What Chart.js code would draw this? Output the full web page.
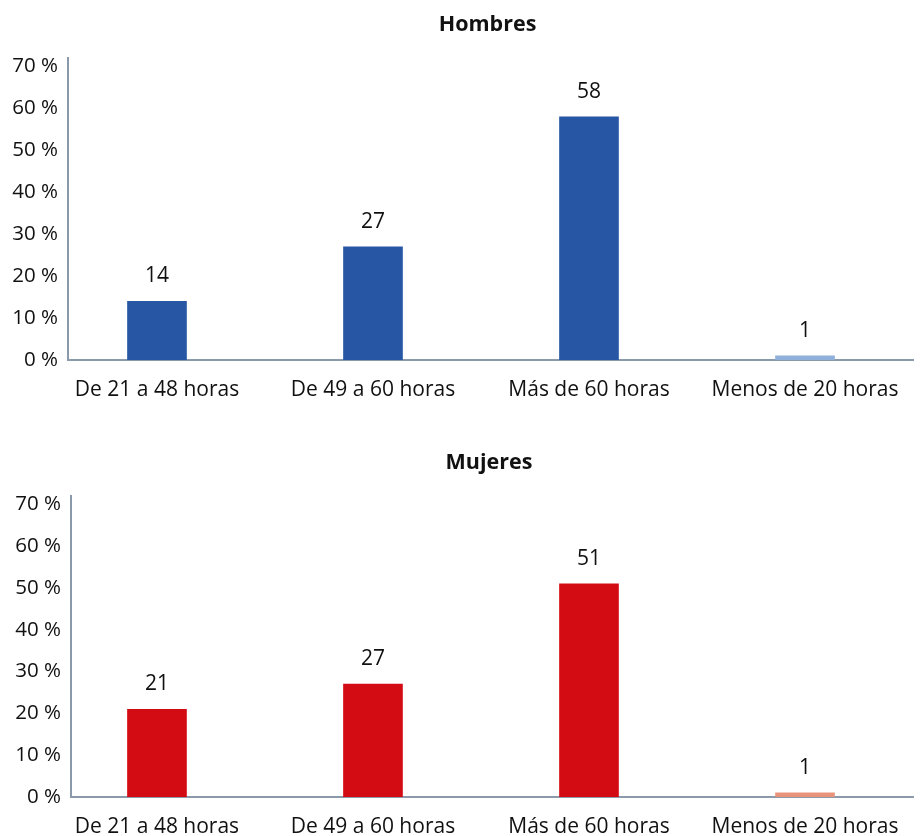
<!DOCTYPE html>
<html>
<head>
<meta charset="utf-8">
<script src="https://cdn.jsdelivr.net/npm/chart.js@4/dist/chart.umd.min.js"></script>
<style>
  html, body { margin: 0; padding: 0; background: #fff; }
  .panel { position: absolute; left: 0; width: 921px; height: 418px; }
  #top { top: 0; }
  #bottom { top: 418px; }
</style>
</head>
<body>
<div class="panel" id="top"><canvas id="cHombres" width="921" height="418"></canvas></div>
<div class="panel" id="bottom"><canvas id="cMujeres" width="921" height="418"></canvas></div>
<script>
// Categories (hours worked per week)
const categories = ['De 21 a 48 horas', 'De 49 a 60 horas', 'Más de 60 horas', 'Menos de 20 horas'];
// Percentages per group
const hombres = [14, 27, 58, 1];
const mujeres = [21, 27, 51, 1];
// Y-axis tick values (percent)
const yTicks = [0, 10, 20, 30, 40, 50, 60, 70];

const FONT = '"Open Sans", "Noto Sans", sans-serif';
const AXIS_COLOR = '#8b9aaa';

// Draws the panel title centred over the plot area and the value above each bar
const annotate = {
  id: 'annotate',
  afterDatasetsDraw(chart, args, opts) {
    const ctx = chart.ctx;
    const area = chart.chartArea;
    ctx.save();
    ctx.fillStyle = '#111';
    ctx.textAlign = 'center';
    ctx.textBaseline = 'middle';
    ctx.font = 'bold 21.5px ' + FONT;
    ctx.fillText(opts.title, (area.left + area.right) / 2 - 3, opts.titleY);
    ctx.font = '21px ' + FONT;
    const meta = chart.getDatasetMeta(0);
    const data = chart.data.datasets[0].data;
    meta.data.forEach((bar, i) => {
      ctx.fillText(String(data[i].y), bar.x, bar.y - 25);
    });
    ctx.restore();
  }
};

function makeChart(canvasId, title, values, colors, geom) {
  return new Chart(document.getElementById(canvasId), {
    type: 'bar',
    data: {
      datasets: [{
        data: values.map((v, i) => ({ x: i, y: v })),
        backgroundColor: colors,
        barThickness: 59,
        borderWidth: 0
      }]
    },
    options: {
      responsive: false,
      animation: false,
      layout: { padding: { top: geom.top, left: 0, right: 8, bottom: 0 } },
      plugins: {
        legend: { display: false },
        tooltip: { enabled: false },
        annotate: { title: title, titleY: geom.titleY }
      },
      scales: {
        x: {
          type: 'linear',
          offset: false,
          min: geom.xMin,
          max: 3.5,
          afterBuildTicks: s => { s.ticks = categories.map((_, i) => ({ value: i })); },
          afterFit: s => { s.height = geom.xHeight; },
          grid: { display: false, drawTicks: false },
          border: { display: true, color: AXIS_COLOR, width: 2 },
          ticks: {
            callback: v => categories[v],
            autoSkip: false,
            maxRotation: 0,
            padding: 17,
            color: '#111',
            font: { family: FONT, size: 21 }
          }
        },
        y: {
          min: 0,
          max: 72,
          afterBuildTicks: s => { s.ticks = yTicks.map(v => ({ value: v })); },
          afterFit: s => { s.width = geom.yWidth; },
          grid: { display: false, drawTicks: false },
          border: { display: true, color: AXIS_COLOR, width: 2 },
          ticks: {
            callback: v => v + ' %',
            padding: 10,
            color: '#111',
            font: { family: FONT, size: 20.5 }
          }
        }
      }
    },
    plugins: [annotate]
  });
}

makeChart('cHombres', 'Hombres', hombres,
  ['#2757a4', '#2757a4', '#2757a4', '#8fb0da'],
  { top: 58, xHeight: 58, yWidth: 68, xMin: -0.412, titleY: 25 });

makeChart('cMujeres', 'Mujeres', mujeres,
  ['#d30c14', '#d30c14', '#d30c14', '#e9937a'],
  { top: 78, xHeight: 39, yWidth: 71, xMin: -0.398, titleY: 45 });
</script>
</body>
</html>
